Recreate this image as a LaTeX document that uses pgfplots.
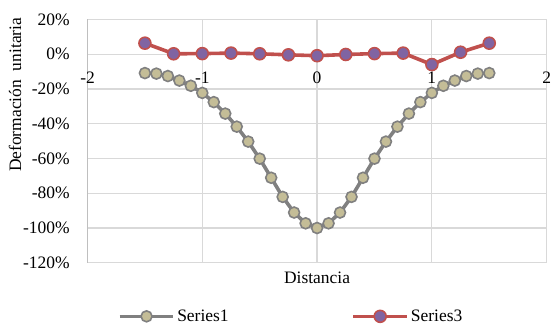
\documentclass[border=0pt]{standalone}
\usepackage{pgfplots}
\pgfplotsset{compat=1.18}
\usepackage{fontspec}
\setmainfont{Liberation Serif}

\definecolor{gridgray}{HTML}{D9D9D9}
\definecolor{axisgray}{HTML}{BFBFBF}
\definecolor{s1line}{HTML}{808080}
\definecolor{s1fill}{HTML}{C4BD97}
\definecolor{s3line}{HTML}{C0504D}
\definecolor{s3fill}{HTML}{8064A2}

\newcommand\fs{\fontsize{17.5bp}{21bp}\selectfont}

\begin{document}
\begin{tikzpicture}
\begin{axis}[
  scale only axis,
  width=460bp, height=243.9bp,
  xmin=-2, xmax=2, ymin=-120, ymax=20,
  axis x line=middle, axis y line=left,
  hide obscured x ticks=false,
  hide obscured y ticks=false,
  x axis line style={gridgray, line width=1.2bp, -},
  y axis line style={axisgray, line width=1.3bp, -},
  xtick={-2,-1,0,1,2},
  xticklabels={-2,-1,0,1,2},
  ytick={-120,-100,-80,-60,-40,-20,0,20},
  yticklabels={-120\%,-100\%,-80\%,-60\%,-40\%,-20\%,0\%,20\%},
  major tick length=0pt,
  grid=major,
  major grid style={gridgray, line width=1.2bp},
  tick label style={font=\fs, inner sep=0pt},
  xticklabel style={anchor=north, yshift=-18bp},
  yticklabel style={anchor=east, xshift=-17.7bp},
  xlabel={Distancia},
  xlabel style={font=\fs, inner sep=0pt, at={(axis description cs:0.5,0)}, anchor=base, yshift=-20.5bp},
  ylabel={Deformación\hspace{0.25em} unitaria},
  ylabel style={font=\fs, inner sep=0pt, at={(axis description cs:-0.1576,0.69)}, anchor=center},
  legend columns=2,
  legend style={font=\fs, draw=none, fill=none, at={(axis description cs:0.059,-0.22)}, anchor=west,
    /tikz/every even column/.append style={column sep=121bp}},
  legend image code/.code={%
    \draw[mark repeat=2, mark phase=2, #1] plot coordinates {(0bp,0bp) (27bp,0bp) (54bp,0bp)};},
  clip=false,
]
% Series1: deformation profile sampled every 0.1
\addplot[s1line, line width=3.6bp, mark=*, mark size=5.5bp,
  mark options={fill=s1fill, draw=s1line, line width=1.6bp}]
  coordinates {
  (-1.5,-10.9) (-1.4,-11.2) (-1.3,-12.6) (-1.2,-15.2) (-1.1,-18.2)
  (-1.0,-22.3) (-0.9,-27.6) (-0.8,-34.2) (-0.7,-41.7) (-0.6,-50.3)
  (-0.5,-60.1) (-0.4,-71.1) (-0.3,-82.1) (-0.2,-91.1) (-0.1,-97.3)
  (0,-100)
  (0.1,-97.3) (0.2,-91.1) (0.3,-82.1) (0.4,-71.1) (0.5,-60.1)
  (0.6,-50.3) (0.7,-41.7) (0.8,-34.2) (0.9,-27.6) (1.0,-22.3)
  (1.1,-18.2) (1.2,-15.2) (1.3,-12.6) (1.4,-11.2) (1.5,-10.9)
  };
\addlegendentry{Series1}
% Series3: measured points every 0.25
\addplot[s3line, line width=3.6bp, mark=*, mark size=6bp,
  mark options={fill=s3fill, draw=s3line, line width=1.6bp}]
  coordinates {
  (-1.5,6.3) (-1.25,0.2) (-1.0,0.3) (-0.75,0.6) (-0.5,0.2) (-0.25,-0.4)
  (0,-0.9) (0.25,-0.2) (0.5,0.3) (0.75,0.6) (1.0,-6.0) (1.25,1.1) (1.5,6.3)
  };
\addlegendentry{Series3}
\end{axis}
\path (current axis.south west) ++(-87.7bp,-63.7bp) rectangle ++(551bp,327bp);
\end{tikzpicture}
\end{document}
